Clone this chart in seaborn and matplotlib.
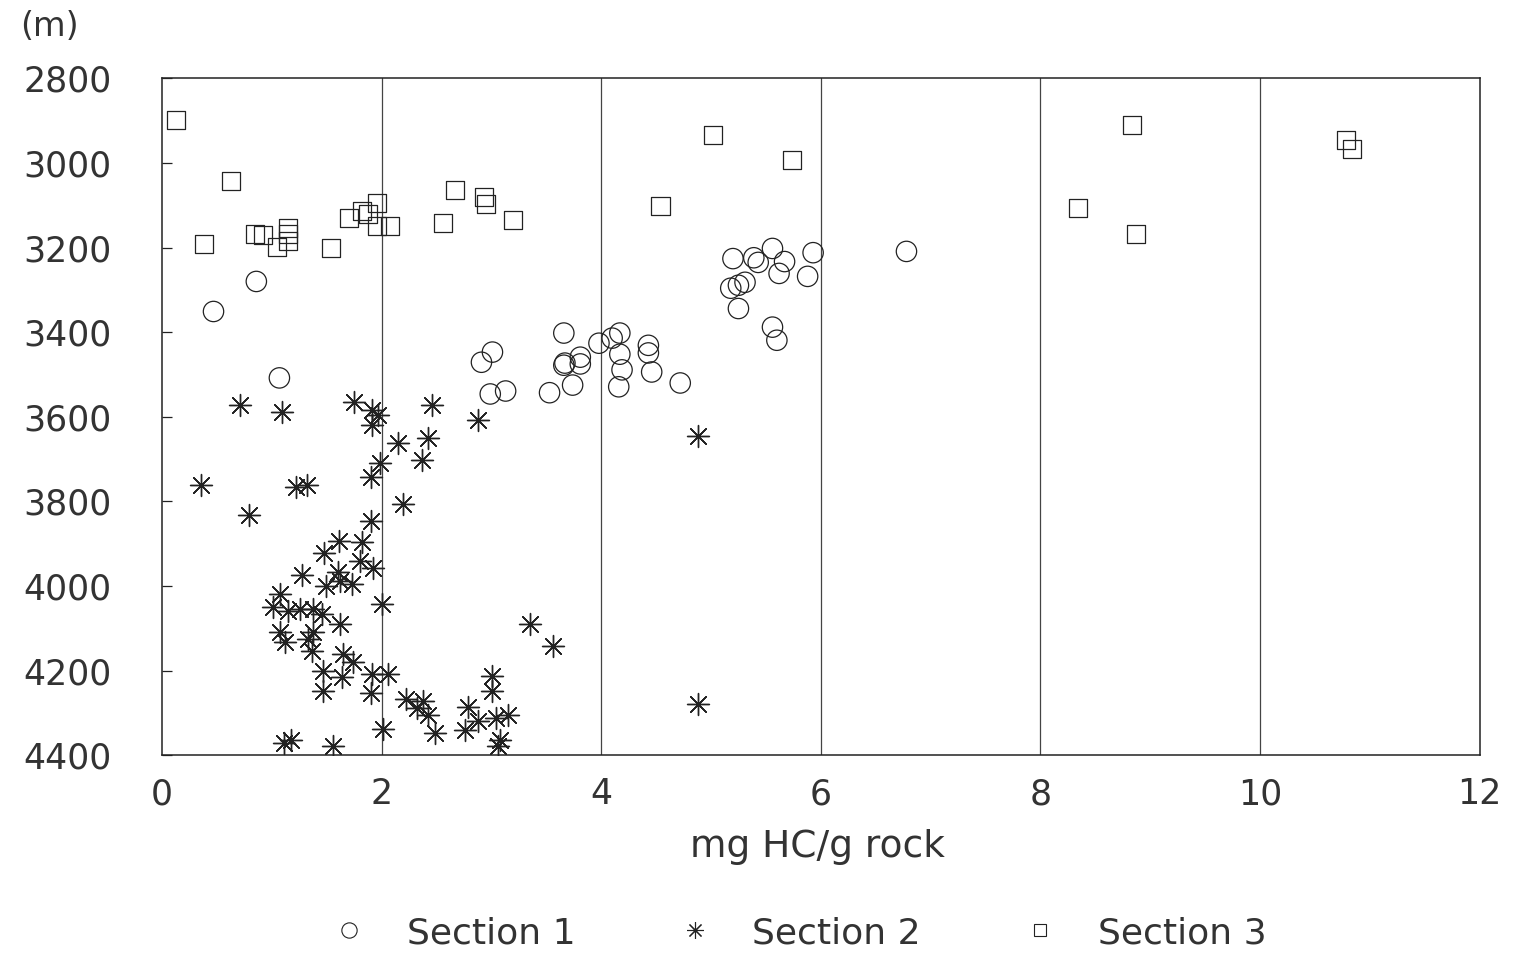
import numpy as np
import pandas as pd
import matplotlib
matplotlib.use("Agg")
import matplotlib.pyplot as plt
from matplotlib.lines import Line2D
import seaborn as sns

# Section 1 (open circles): hydrocarbon yield (mg HC/g rock) vs depth (m)
s1_x = [0.86, 0.47, 1.07, 3.01, 2.91, 2.99, 3.13, 3.53, 3.66, 3.67, 3.81, 3.81,
        3.74, 3.98, 4.10, 4.17, 4.17, 4.19, 4.16, 4.43, 4.43, 4.46, 4.72, 5.20,
        5.39, 5.43, 5.56, 5.67, 5.62, 5.93, 5.88, 5.31, 5.25, 5.18, 5.25, 5.56,
        5.60, 6.78, 3.66]
s1_y = [3280, 3351, 3508, 3447, 3471, 3546, 3539, 3543, 3402, 3473, 3459, 3475,
        3525, 3426, 3414, 3402, 3452, 3489, 3529, 3431, 3449, 3494, 3520, 3226,
        3224, 3235, 3202, 3233, 3261, 3212, 3268, 3282, 3289, 3296, 3344, 3388,
        3419, 3209, 3478]

# Section 2 (asterisks)
s2_x = [0.71, 1.09, 1.75, 1.91, 1.97, 1.91, 2.46, 2.88, 2.15, 2.42, 2.37, 1.99,
        1.90, 0.36, 1.22, 1.32, 0.79, 2.20, 1.90, 1.82, 1.61, 1.48, 1.92, 1.80,
        1.60, 1.28, 1.49, 1.62, 1.73, 2.00, 1.08, 1.01, 1.15, 1.26, 1.38, 1.46,
        1.62, 1.08, 1.12, 1.33, 1.38, 1.37, 1.65, 1.74, 1.47, 1.64, 1.47, 1.91,
        2.06, 1.90, 2.22, 2.38, 2.32, 2.42, 2.49, 2.01, 1.11, 1.18, 1.56, 2.79,
        2.76, 2.88, 3.01, 3.01, 3.04, 3.15, 3.08, 3.06, 3.35, 3.56, 4.88, 4.88]
s2_y = [3572, 3588, 3565, 3584, 3595, 3619, 3572, 3607, 3661, 3649, 3701, 3708,
        3743, 3762, 3767, 3762, 3831, 3805, 3847, 3897, 3894, 3922, 3958, 3941,
        3967, 3974, 4000, 3988, 3995, 4042, 4019, 4049, 4059, 4054, 4054, 4066,
        4089, 4108, 4132, 4125, 4108, 4153, 4160, 4179, 4202, 4214, 4247, 4207,
        4207, 4254, 4266, 4271, 4289, 4306, 4348, 4337, 4370, 4365, 4377, 4285,
        4341, 4320, 4212, 4249, 4313, 4306, 4365, 4379, 4089, 4141, 3645, 4280]

# Section 3 (open squares)
s3_x = [0.13, 0.63, 0.38, 0.85, 0.92, 1.15, 1.15, 1.15, 1.05, 1.54, 1.70, 1.82,
        1.88, 1.96, 1.96, 2.08, 2.67, 2.93, 2.95, 2.56, 3.20, 4.54, 5.02, 5.74,
        8.83, 8.34, 8.87, 10.78, 10.84]
s3_y = [2899, 3042, 3191, 3168, 3170, 3153, 3167, 3184, 3198, 3200, 3129, 3113,
        3120, 3094, 3148, 3148, 3063, 3080, 3096, 3141, 3134, 3101, 2934, 2993,
        2911, 3106, 3167, 2946, 2967]

sections = ["Section 1", "Section 2", "Section 3"]
x_ticks = [0, 2, 4, 6, 8, 10, 12]
y_ticks = [2800, 3000, 3200, 3400, 3600, 3800, 4000, 4200, 4400]

df = pd.concat([
    pd.DataFrame({"yield": s1_x, "depth": s1_y, "section": sections[0]}),
    pd.DataFrame({"yield": s2_x, "depth": s2_y, "section": sections[1]}),
    pd.DataFrame({"yield": s3_x, "depth": s3_y, "section": sections[2]}),
])

sns.set_theme(style="white")
plt.rcParams["font.family"] = ["DejaVu Sans"]

ink = "#222222"
fig = plt.figure(figsize=(15.13, 9.56), dpi=100)
ax = fig.add_axes([0.107, 0.21, 0.871, 0.708])

# open circles and squares: hollow faces; asterisk is a line marker coloured directly
sub = df[df["section"] == sections[0]]
sns.scatterplot(data=sub, x="yield", y="depth", ax=ax, marker="o", s=215,
                facecolors="none", edgecolors=ink, linewidth=0.9,
                legend=False, zorder=3)
sub = df[df["section"] == sections[1]]
sns.scatterplot(data=sub, x="yield", y="depth", ax=ax, marker=(8, 2, 0), s=250,
                color=ink, linewidth=1.0, legend=False, zorder=3)
sub = df[df["section"] == sections[2]]
sns.scatterplot(data=sub, x="yield", y="depth", ax=ax, marker="s", s=170,
                facecolors="none", edgecolors=ink, linewidth=0.9,
                legend=False, zorder=3)

ax.set_xlim(0, 12)
ax.set_ylim(4400, 2800)
ax.set_xticks(x_ticks)
ax.set_yticks(y_ticks)
ax.set_xticklabels([str(v) for v in x_ticks])
ax.set_yticklabels([str(v) for v in y_ticks])
ax.tick_params(axis="x", direction="in", bottom=False, labelsize=25,
               labelcolor="#333333", pad=16)
ax.tick_params(axis="y", direction="in", left=True, length=7, width=0.9,
               color=ink, labelsize=25, labelcolor="#333333", pad=36)
for v in x_ticks[1:-1]:
    ax.axvline(v, color="#444444", lw=0.9, zorder=1)
for sp in ax.spines.values():
    sp.set_color(ink)
    sp.set_linewidth(1.1)
ax.set_xlabel("")
ax.set_ylabel("")

fig.text(0.5405, 1 - 847 / 956, "mg HC/g rock", ha="center", va="center",
         fontsize=27, color="#333333")
fig.text(20 / 1513, 1 - 27 / 956, "(m)", ha="left", va="center",
         fontsize=24, color="#333333")

handles = [
    Line2D([], [], ls="none", marker="o", ms=11, mfc="none", mec=ink, mew=0.8),
    Line2D([], [], ls="none", marker=(8, 2, 0), ms=12, mec=ink, mew=0.8),
    Line2D([], [], ls="none", marker="s", ms=9, mfc="none", mec=ink, mew=0.8),
]
fig.legend(handles, sections, loc="center", bbox_to_anchor=(0.528, 1 - 933 / 956),
           ncol=3, frameon=False, fontsize=26, handlelength=1.0,
           handletextpad=1.1, columnspacing=2.8, labelcolor="#333333")

fig.savefig("out.png", dpi=100, facecolor="white")
